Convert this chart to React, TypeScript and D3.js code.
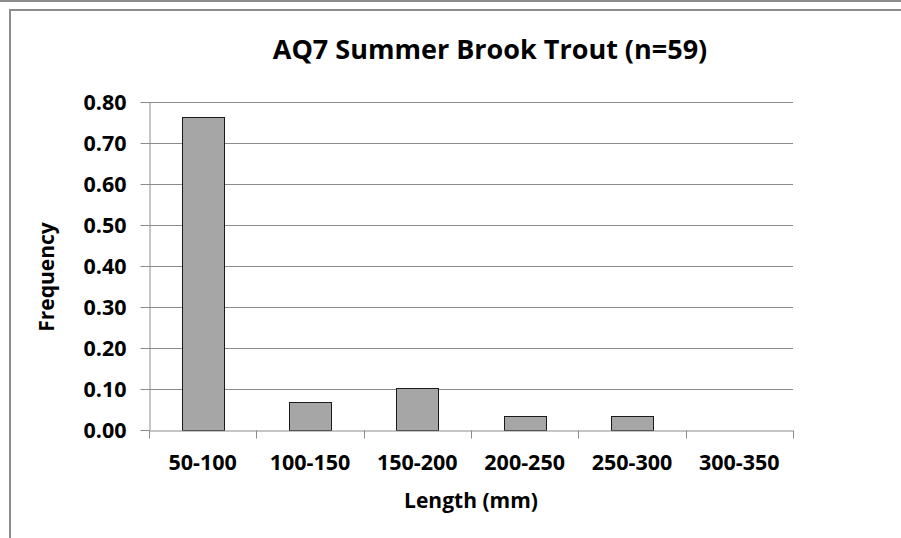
import React, { useEffect, useRef } from 'react';
import * as d3 from 'd3';

// length classes (mm) and observed frequency, n = 59
const categories = ['50-100', '100-150', '150-200', '200-250', '250-300', '300-350'];
const frequency = [0.763, 0.068, 0.102, 0.034, 0.034, 0];
const yTicks = [0, 0.1, 0.2, 0.3, 0.4, 0.5, 0.6, 0.7, 0.8];

const FONT = "'Open Sans', 'DejaVu Sans', sans-serif";

const App = () => {
  const svgRef = useRef<SVGSVGElement>(null);

  useEffect(() => {
    const svg = d3.select(svgRef.current);
    svg.selectAll('*').remove();

    const W = 901;
    const H = 538;
    const plot = { left: 149, right: 793, top: 102, bottom: 430 };

    svg.attr('width', W).attr('height', H);
    svg.append('rect').attr('width', W).attr('height', H).attr('fill', '#fff');

    // outer frame bits
    svg.append('line')
      .attr('x1', 0).attr('x2', W).attr('y1', 1).attr('y2', 1)
      .attr('stroke', '#8c8c8c').attr('stroke-width', 2);
    svg.append('path')
      .attr('d', `M10,${H} L10,10 L${W},10`)
      .attr('fill', 'none').attr('stroke', '#8c8c8c').attr('stroke-width', 2);

    const x = d3.scaleBand()
      .domain(categories)
      .range([plot.left, plot.right])
      .paddingInner(0.61)
      .paddingOuter(0.305);

    const y = d3.scaleLinear()
      .domain([0, 0.8])
      .range([plot.bottom, plot.top]);

    const g = svg.append('g');

    // gridlines
    g.selectAll('.grid')
      .data(yTicks.slice(1))
      .enter()
      .append('line')
      .attr('x1', plot.left).attr('x2', plot.right)
      .attr('y1', d => Math.round(y(d)) + 0.5)
      .attr('y2', d => Math.round(y(d)) + 0.5)
      .attr('stroke', '#8c8c8c').attr('stroke-width', 1);

    // bars
    g.selectAll('.bar')
      .data(frequency)
      .enter()
      .append('rect')
      .attr('x', (d, i) => Math.round(x(categories[i])!) + 0.5)
      .attr('y', d => Math.round(y(d)) + 0.5)
      .attr('width', Math.round(x.bandwidth()))
      .attr('height', d => Math.round(y(0)) - Math.round(y(d)))
      .attr('fill', '#a6a6a6')
      .attr('stroke', d => (d > 0 ? '#1a1a1a' : 'none'))
      .attr('stroke-width', 1);

    // y axis
    const yAxis = g.append('g')
      .attr('transform', `translate(${plot.left + 0.5},0)`)
      .call(d3.axisLeft(y).tickValues(yTicks).tickSize(9).tickSizeOuter(0).tickPadding(14)
        .tickFormat(d3.format('.2f')));

    // x axis with ticks on the category boundaries
    const step = x.step();
    const xAxis = g.append('g')
      .attr('transform', `translate(0,${plot.bottom + 0.5})`)
      .call(d3.axisBottom(x).tickSize(0).tickPadding(24));
    xAxis.selectAll('.bound')
      .data(d3.range(categories.length + 1))
      .enter()
      .append('line')
      .attr('x1', i => Math.round(plot.left + i * step) + 0.5)
      .attr('x2', i => Math.round(plot.left + i * step) + 0.5)
      .attr('y1', 0).attr('y2', 8)
      .attr('stroke', '#8c8c8c');

    svg.selectAll('.domain').attr('stroke', '#8c8c8c');
    svg.selectAll('.tick line').attr('stroke', '#8c8c8c');
    svg.selectAll('.tick text')
      .attr('fill', '#000')
      .style('font-family', FONT)
      .style('font-size', '21.5px')
      .style('font-weight', 700);
    yAxis.selectAll('.tick text').attr('dy', '0.36em');

    // title
    svg.append('text')
      .attr('x', 490).attr('y', 59)
      .attr('text-anchor', 'middle')
      .style('font-family', FONT).style('font-size', '27px').style('font-weight', 700)
      .text('AQ7 Summer Brook Trout (n=59)');

    // axis titles
    svg.append('text')
      .attr('x', (plot.left + plot.right) / 2).attr('y', 508)
      .attr('text-anchor', 'middle')
      .style('font-family', FONT).style('font-size', '21px').style('font-weight', 700)
      .text('Length (mm)');

    svg.append('text')
      .attr('transform', 'translate(54,277) rotate(-90)')
      .attr('text-anchor', 'middle')
      .style('font-family', FONT).style('font-size', '21px').style('font-weight', 700)
      .text('Frequency');
  }, []);

  return (
    <svg ref={svgRef} style={{ position: 'absolute', left: 0, top: 0, display: 'block' }} />
  );
};

export default App;
